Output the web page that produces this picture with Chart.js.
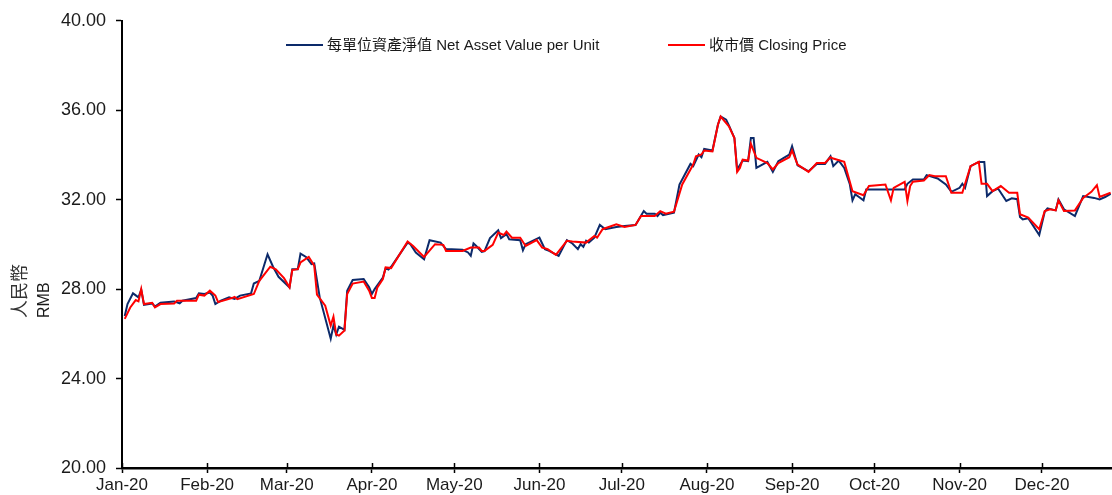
<!DOCTYPE html>
<html>
<head>
<meta charset="utf-8">
<script src="https://cdn.jsdelivr.net/npm/chart.js@4.4.1/dist/chart.umd.min.js"></script>
<style>
  html, body { margin: 0; padding: 0; background: #ffffff; }
  #wrap { width: 1112px; height: 495px; position: relative; }
</style>
</head>
<body>
<div id="wrap"><canvas id="c" width="1112" height="495"></canvas></div>
<script>
// ---- Data (day index: 0 = 1 Jan 2020) ----
const monthLabels = ['Jan-20','Feb-20','Mar-20','Apr-20','May-20','Jun-20','Jul-20','Aug-20','Sep-20','Oct-20','Nov-20','Dec-20'];
const monthStartDays = [0,31,60,91,121,152,182,213,244,274,305,335];
const yTickValues = [20,24,28,32,36,40];

const navLabel = '每單位資產淨值 Net Asset Value per Unit';
const priceLabel = '收市價 Closing Price';
const axisTitleCn = '人民幣';
const axisTitleEn = 'RMB';

const navDays = [1,2,4,6,7,8,11,12,14,19,21,22,27,28,30,32,33,34,36,39,41,43,47,48,50,53,55,57,61,62,64,65,67,69,70,72,76,77,78,79,81,82,84,88,90,91,92,95,96,97,98,104,105,107,110,112,116,118,124,126,127,128,129,130,131,132,134,137,138,140,141,145,146,147,152,154,155,159,162,164,166,167,168,169,170,172,174,176,180,183,187,190,191,194,195,196,197,201,203,207,208,210,211,212,215,217,218,220,221,223,224,226,228,229,230,231,235,237,239,241,243,244,246,250,253,256,258,259,261,263,265,266,267,270,271,285,286,288,292,293,297,300,302,305,306,307,309,312,314,315,317,319,322,324,326,327,328,330,334,336,337,340,341,343,347,348,350,354,356,358,360];
const navValues = [26.8,27.33,27.81,27.63,27.97,27.30,27.36,27.22,27.39,27.45,27.36,27.48,27.60,27.81,27.78,27.85,27.71,27.33,27.48,27.63,27.56,27.71,27.81,28.25,28.37,29.56,29.0,28.55,28.08,28.89,28.89,29.59,29.44,29.12,29.15,27.63,25.78,26.37,25.97,26.32,26.18,27.93,28.41,28.45,28.08,27.78,28.0,28.52,28.94,28.88,29.0,30.08,30.01,29.64,29.34,30.19,30.08,29.79,29.76,29.64,29.49,30.04,29.93,29.79,29.67,29.70,30.28,30.63,30.28,30.46,30.23,30.19,29.74,30.01,30.30,29.79,29.74,29.49,30.19,30.04,29.79,30.01,29.89,30.16,30.08,30.30,30.87,30.68,30.78,30.82,30.87,31.49,31.37,31.37,31.27,31.42,31.31,31.42,32.68,33.60,33.50,34.02,33.90,34.27,34.20,35.35,35.72,35.58,35.32,34.76,33.35,33.75,33.72,34.76,34.76,33.42,33.69,33.24,33.72,33.87,34.02,34.39,33.54,33.27,33.60,33.60,33.94,33.50,33.75,33.42,32.71,31.97,32.24,31.97,32.46,32.46,32.71,32.90,32.90,33.10,32.95,32.68,32.35,32.53,32.71,32.53,33.50,33.69,33.69,32.16,32.38,32.50,31.94,32.06,32.02,31.23,31.12,31.17,30.42,31.46,31.61,31.52,32.01,31.57,31.27,31.57,32.16,32.08,32.01,32.12,32.26];

const priceDays = [1,3,5,6,7,8,11,12,14,19,20,27,28,30,32,34,35,40,41,42,48,50,54,56,59,61,62,64,65,68,70,71,74,76,77,78,79,81,82,84,88,90,91,92,93,95,96,98,104,106,110,114,117,118,124,127,130,131,132,135,137,139,140,142,145,147,151,153,155,158,162,164,169,172,173,175,180,183,187,189,194,196,198,201,204,208,209,211,212,215,217,218,221,223,224,225,226,228,229,231,235,237,239,243,244,246,250,253,256,258,259,263,266,270,272,278,280,281,285,286,287,288,292,294,296,300,302,306,307,309,312,313,315,317,320,323,326,327,330,334,336,338,340,341,343,347,350,353,355,356,360];
const priceValues = [26.67,27.18,27.51,27.45,28.0,27.33,27.39,27.18,27.33,27.36,27.48,27.48,27.75,27.71,27.93,27.71,27.42,27.60,27.65,27.55,27.78,28.37,29.0,28.89,28.49,28.08,28.85,28.89,29.19,29.44,29.05,27.75,27.26,26.37,26.77,25.97,25.92,26.15,27.78,28.25,28.34,27.93,27.60,27.60,28.08,28.45,28.97,28.94,30.13,29.93,29.44,30.01,29.98,29.71,29.71,29.86,29.86,29.71,29.71,29.98,30.53,30.42,30.57,30.30,30.30,29.93,30.19,29.86,29.79,29.53,30.16,30.13,30.08,30.38,30.30,30.68,30.90,30.78,30.87,31.27,31.27,31.49,31.37,31.46,32.68,33.57,33.94,34.02,34.20,34.16,35.35,35.72,35.28,34.76,33.24,33.42,33.79,33.75,34.50,33.87,33.64,33.35,33.64,33.90,34.20,33.57,33.24,33.64,33.64,33.90,33.84,33.69,32.38,32.20,32.61,32.68,31.97,32.53,32.80,31.94,32.61,32.80,32.86,33.10,33.05,33.05,32.31,32.31,32.71,33.50,33.69,32.71,32.71,32.38,32.61,32.31,32.31,31.35,31.20,30.68,31.49,31.57,31.52,31.97,31.49,31.52,32.08,32.35,32.65,32.12,32.31];

// ---- Chart ----
const FONT = "'Liberation Sans', Arial, 'Noto Sans CJK TC', sans-serif";
const NAVY = '#0c2a6a';
const RED = '#ff0000';

function toPoints(days, vals) { return days.map((d, i) => ({ x: d, y: vals[i] })); }

const overlayPlugin = {
  id: 'overlay',
  afterDraw(chart) {
    const ctx = chart.ctx;
    const area = chart.chartArea;
    ctx.save();
    // legend
    ctx.font = '15px ' + FONT;
    ctx.fillStyle = '#1a1a1a';
    ctx.textBaseline = 'middle';
    ctx.textAlign = 'left';
    const ly = 45;
    const items = [
      { x: 286, color: NAVY, text: navLabel },
      { x: 668, color: RED, text: priceLabel }
    ];
    items.forEach(it => {
      ctx.strokeStyle = it.color;
      ctx.lineWidth = 2;
      ctx.beginPath();
      ctx.moveTo(it.x, ly);
      ctx.lineTo(it.x + 37, ly);
      ctx.stroke();
      ctx.fillText(it.text, it.x + 41, ly + 1);
    });
    // y axis title (rotated, two lines, start-aligned)
    ctx.translate(0, 0);
    ctx.save();
    ctx.translate(21, 318);
    ctx.rotate(-Math.PI / 2);
    ctx.font = '18px ' + FONT;
    ctx.fillStyle = '#333333';
    ctx.textBaseline = 'middle';
    ctx.fillText(axisTitleCn, 0, 0);
    ctx.restore();
    ctx.save();
    ctx.translate(45, 318);
    ctx.rotate(-Math.PI / 2);
    ctx.font = '16px ' + FONT;
    ctx.fillStyle = '#1a1a1a';
    ctx.textBaseline = 'middle';
    ctx.fillText(axisTitleEn, 0, 0);
    ctx.restore();
    // x ticks crossing above axis
    const xs = chart.scales.x;
    ctx.strokeStyle = '#000';
    ctx.lineWidth = 1.5;
    monthStartDays.forEach(d => {
      const px = Math.round(xs.getPixelForValue(d)) + 0.5;
      ctx.beginPath();
      ctx.moveTo(px, area.bottom - 5);
      ctx.lineTo(px, area.bottom);
      ctx.stroke();
    });
    ctx.restore();
  }
};

new Chart(document.getElementById('c'), {
  type: 'line',
  data: {
    datasets: [
      {
        label: navLabel,
        data: toPoints(navDays, navValues),
        borderColor: NAVY,
        backgroundColor: NAVY,
        borderWidth: 2,
        pointRadius: 0,
        tension: 0,
        order: 2
      },
      {
        label: priceLabel,
        data: toPoints(priceDays, priceValues),
        borderColor: RED,
        backgroundColor: RED,
        borderWidth: 2,
        pointRadius: 0,
        tension: 0,
        order: 1
      }
    ]
  },
  options: {
    responsive: false,
    animation: false,
    devicePixelRatio: 1,
    layout: { padding: { top: 19, left: 0, right: 0, bottom: 0 } },
    plugins: {
      legend: { display: false },
      tooltip: { enabled: false },
      title: { display: false }
    },
    scales: {
      x: {
        type: 'linear',
        min: 0,
        max: 360.5,
        afterBuildTicks(scale) { scale.ticks = monthStartDays.map(v => ({ value: v })); },
        afterFit(scale) { scale.height = 27; },
        grid: { drawOnChartArea: false, drawTicks: true, tickLength: 5, color: '#000', tickWidth: 1.5 },
        border: { display: true, color: '#000', width: 2.5 },
        ticks: {
          autoSkip: false,
          maxRotation: 0,
          padding: 2,
          color: '#1a1a1a',
          font: { family: FONT, size: 17 },
          callback(value, index) { return monthLabels[index]; }
        }
      },
      y: {
        min: 20,
        max: 40,
        afterBuildTicks(scale) { scale.ticks = yTickValues.map(v => ({ value: v })); },
        afterFit(scale) { scale.width = 122; },
        grid: { drawOnChartArea: false, drawTicks: true, tickLength: 6, color: '#000', tickWidth: 1.5 },
        border: { display: true, color: '#000', width: 2 },
        ticks: {
          padding: 10,
          color: '#1a1a1a',
          font: { family: FONT, size: 18 },
          callback(value) { return Number(value).toFixed(2); }
        }
      }
    }
  },
  plugins: [overlayPlugin]
});
</script>
</body>
</html>
